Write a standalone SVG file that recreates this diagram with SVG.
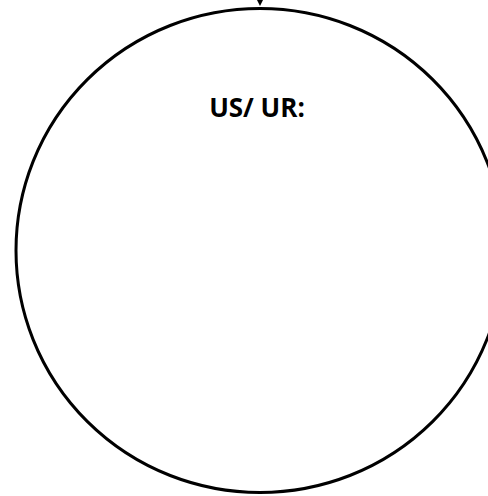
<svg xmlns="http://www.w3.org/2000/svg" width="488" height="496" viewBox="0 0 488 496">
<style>
.shape{fill:#fff;stroke:#000;stroke-width:3}
.lbl{font-family:"Open Sans","Liberation Sans",sans-serif;font-weight:bold;font-size:26px;fill:#000}
</style>
<rect width="488" height="496" fill="#fff"/>
<g id="connectors">
<line x1="260" y1="-10" x2="260" y2="2" stroke="#000" stroke-width="1.5"/>
<polygon points="257,0 263,0 260,6" fill="#000"/>
</g>
<g id="node-us-ur">
<ellipse class="shape" cx="260" cy="250.5" rx="244" ry="242"/>
<text class="lbl" x="257" y="117" text-anchor="middle">US/ UR:</text>
</g>
</svg>
